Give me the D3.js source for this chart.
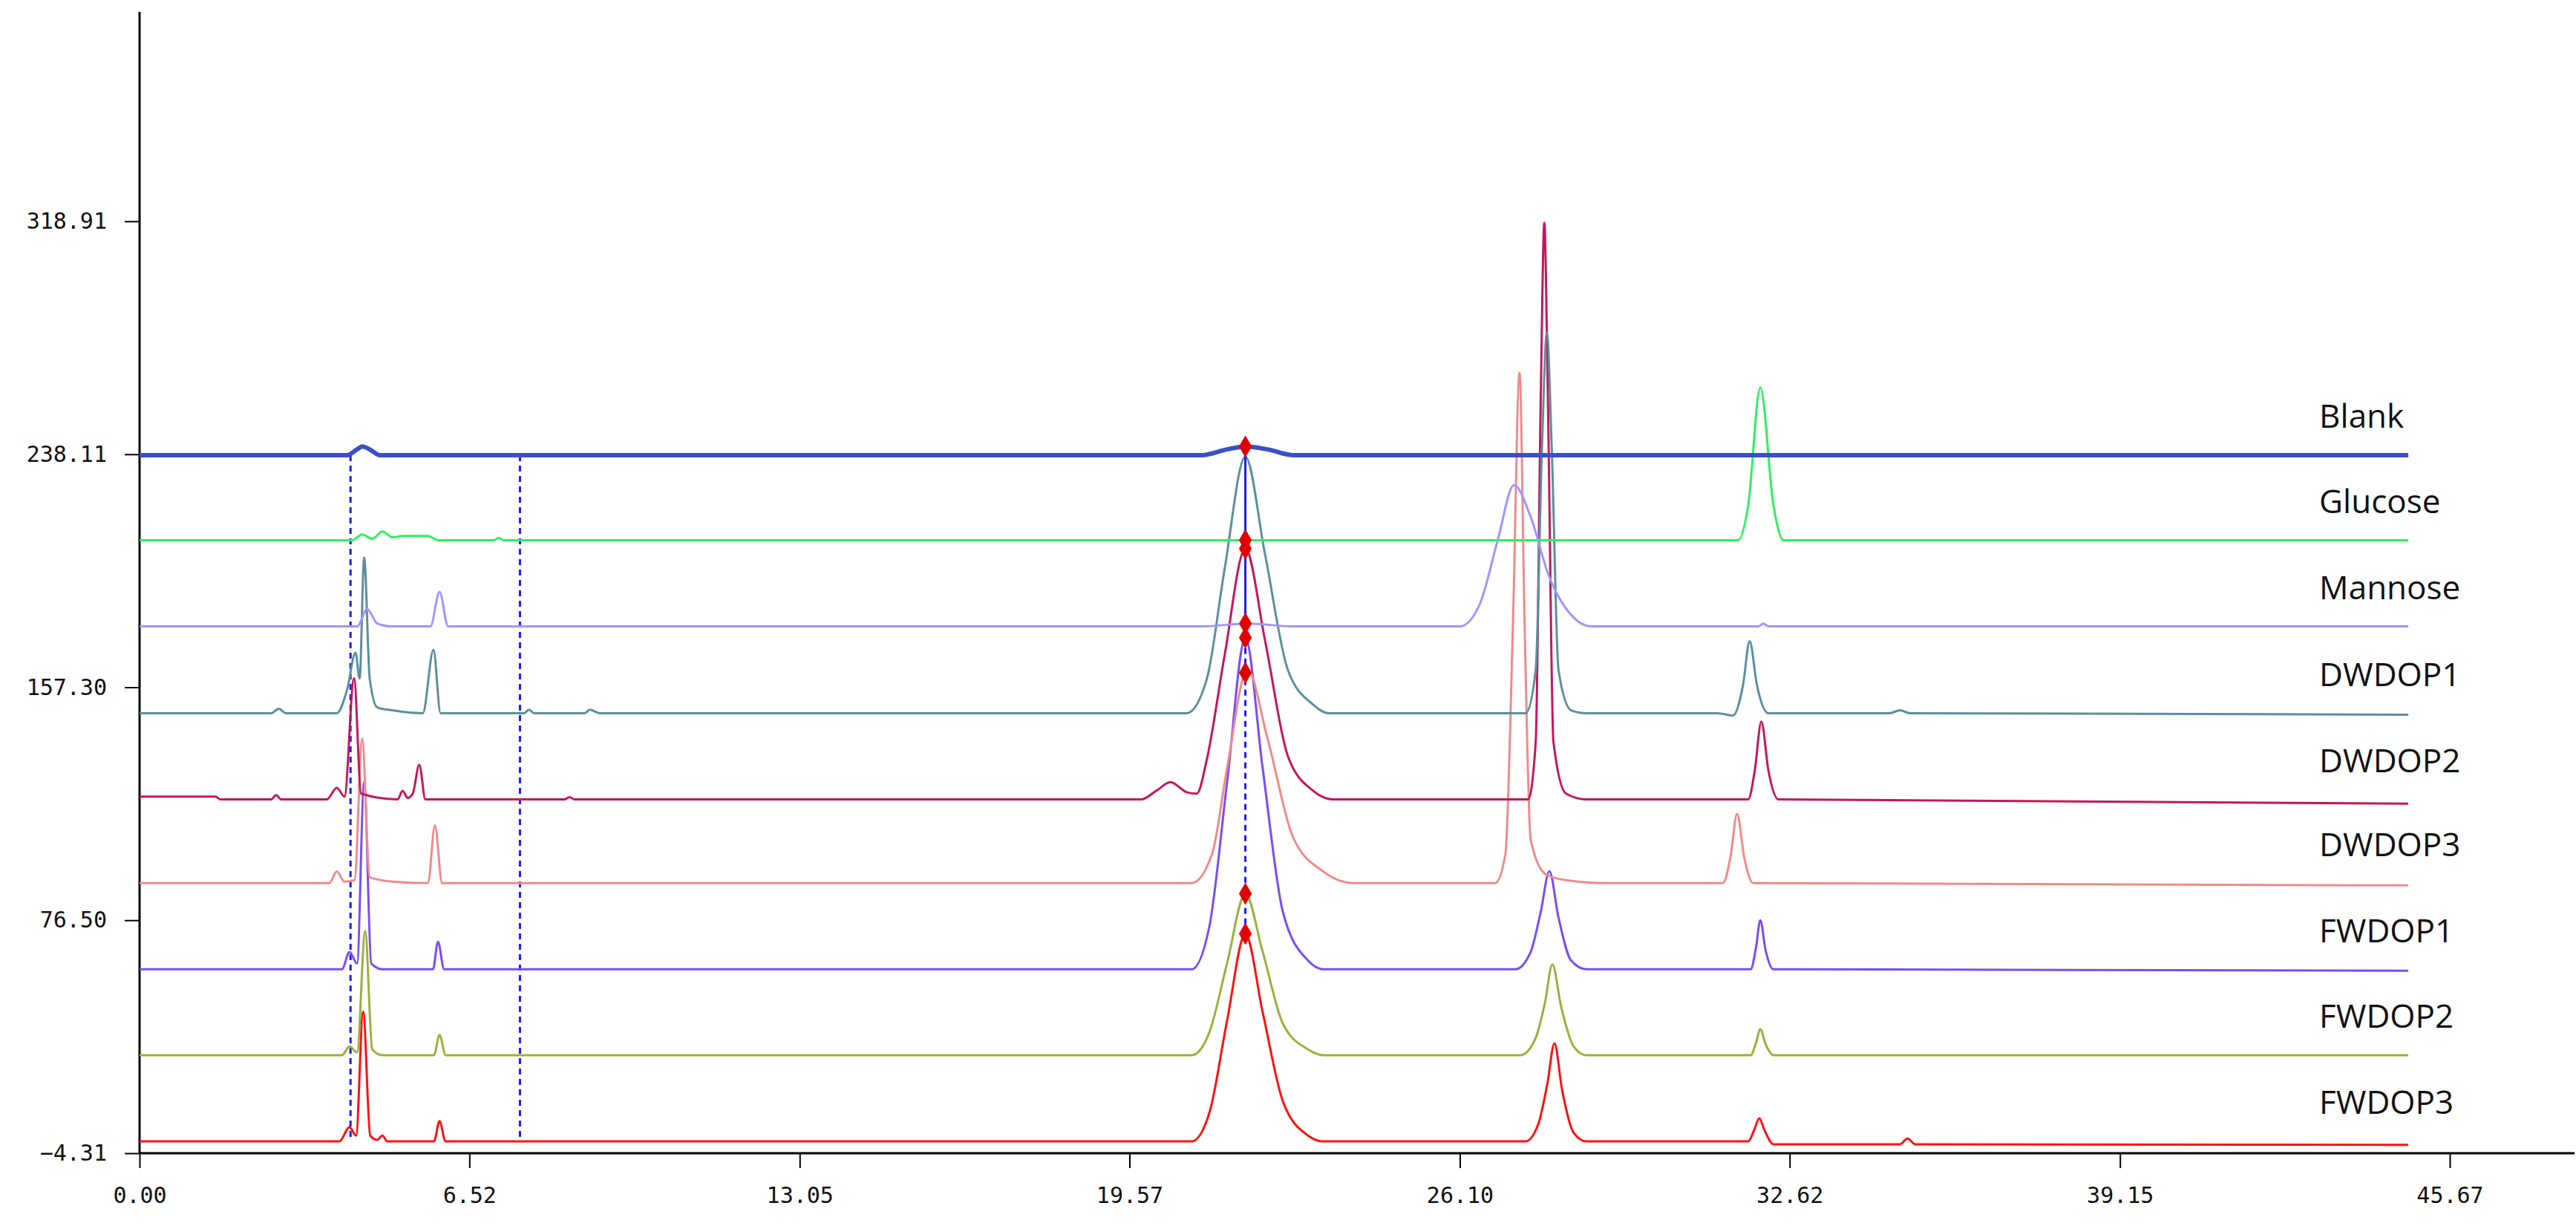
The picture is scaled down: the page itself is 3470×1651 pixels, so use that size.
<!DOCTYPE html>
<html>
<head>
<meta charset="utf-8">
<script src="https://cdn.jsdelivr.net/npm/d3@7"></script>
<style>
  body { margin: 0; background: #fff; }
  svg { display: block; }
</style>
</head>
<body>
<div id="container"></div>
<script>
// chromatogram traces, stacked; each point is [time (min), signal above its baseline]
const names = ["Blank", "Glucose", "Mannose", "DWDOP1", "DWDOP2", "DWDOP3", "FWDOP1", "FWDOP2", "FWDOP3"];
const baselines = [237.8, 208.3, 178.4, 148.3, 118.4, 89.4, 59.5, 29.7, -0.2];
const colors = ["#3a4fc8", "#2ef060", "#a394ff", "#5b8f9f", "#c2185b", "#f08a8a", "#7a4cf5", "#9bb03c", "#ff1010"];
const xTicks = [0.00, 6.52, 13.05, 19.57, 26.10, 32.62, 39.15, 45.67];
const yTicks = [-4.31, 76.50, 157.30, 238.11, 318.91];

const blank = [[0,0],[4.1,0],[4.3,2],[4.4,3],[4.55,2],[4.75,0],[21.0,0],[21.5,2],[21.86,3],[22.3,2],[22.8,0],[44.85,0]];
const glucose = [[0,0],[4.2,0],[4.4,2],[4.6,0.5],[4.8,3],[5.0,1],[5.2,1.5],[5.7,1.5],[5.9,0],[7.0,0],[7.1,0.8],[7.2,0],
  [31.6,0],[31.8,12],[32.04,53],[32.3,12],[32.5,0],[44.85,0]];
const mannose = [[0,0],[4.3,0],[4.5,6],[4.7,1],[5.0,0],[5.75,0],[5.93,12],[6.1,0],[21.0,0],[21.9,1],[22.8,0],
  [26.1,0],[26.5,8],[26.85,30],[27.17,49],[27.5,38],[27.85,18],[28.3,4],[28.7,0],[32.0,0],[32.1,1],[32.2,0],[44.85,0]];
const dwdop1 = [[0,0],[2.6,0],[2.75,1.5],[2.9,0],[3.9,0],[4.1,8],[4.27,21],[4.35,12],[4.44,54],[4.55,12],[4.7,2],[5.0,1],
  [5.6,0],[5.81,22],[5.95,0],[7.6,0],[7.7,1.2],[7.8,0],[8.8,0],[8.9,1.2],[9.1,0],
  [20.7,0],[21.1,12],[21.45,50],[21.86,89],[22.25,55],[22.7,15],[23.2,3],[23.5,0],
  [27.4,0],[27.6,15],[27.72,90],[27.82,132],[27.92,90],[28.05,15],[28.3,1],[28.6,0],
  [31.2,0],[31.5,-0.8],[31.7,10],[31.83,25],[31.97,10],[32.2,0],[34.6,0],[34.8,1],[35.0,0],[44.85,-0.5]];
const dwdop2 = [[0,1],[1.5,1],[1.6,0],[2.6,0],[2.7,1.5],[2.8,0],[3.7,0],[3.9,4],[4.05,1],[4.24,42],[4.38,2],
  [5.1,0],[5.2,3],[5.3,0.5],[5.4,2],[5.53,12],[5.65,0],[8.4,0],[8.5,0.8],[8.6,0],
  [19.8,0],[20.1,3],[20.38,6],[20.7,2.5],[20.9,2],[21.1,14],[21.45,50],[21.86,87],[22.25,55],[22.7,15],[23.2,3],[23.6,0],
  [27.45,0],[27.6,20],[27.7,140],[27.77,200],[27.84,140],[27.95,20],[28.2,2],[28.6,0],
  [31.8,0],[31.93,10],[32.06,27],[32.2,10],[32.4,0],[44.85,-1.5]];
const dwdop3 = [[0,0],[3.75,0],[3.9,4],[4.05,0.5],[4.25,1],[4.4,50],[4.55,2],[5.0,0.5],[5.7,0],[5.84,20],[5.98,0],
  [20.8,0],[21.2,10],[21.5,40],[21.9,74],[22.3,50],[22.8,16],[23.4,4],[24.0,0],
  [26.8,0],[27.0,10],[27.15,90],[27.28,177],[27.38,90],[27.5,15],[27.8,3],[28.2,1],[29.0,0],
  [31.3,0],[31.45,9],[31.58,24],[31.72,9],[31.9,0],[44.85,-0.8]];
const fwdop1 = [[0,0],[4.0,0],[4.15,6],[4.3,2],[4.44,65],[4.58,2],[4.8,0],[5.8,0],[5.9,9.5],[6.02,0],
  [20.8,0],[21.15,15],[21.5,65],[21.86,115],[22.2,70],[22.6,20],[23.1,3],[23.4,0],
  [27.2,0],[27.5,6],[27.7,20],[27.87,34],[28.05,18],[28.3,3],[28.6,0],
  [31.85,0],[31.95,7],[32.04,17],[32.14,7],[32.3,0],[44.85,-0.5]];
const fwdop2 = [[0,0],[4.0,0],[4.15,3],[4.3,1],[4.46,43],[4.6,2],[4.8,0],[5.82,0],[5.93,7],[6.05,0],
  [20.8,0],[21.15,8],[21.5,32],[21.86,56],[22.2,36],[22.6,11],[23.1,2],[23.4,0],
  [27.3,0],[27.6,6],[27.78,18],[27.93,31.5],[28.1,17],[28.35,3],[28.6,0],
  [31.85,0],[31.95,4],[32.04,9],[32.14,4],[32.3,0],[44.85,0]];
const fwdop3 = [[0,0],[3.95,0],[4.15,5],[4.28,2],[4.42,45],[4.56,2],[4.7,0.5],[4.8,2],[4.9,0],[5.82,0],[5.93,7],[6.05,0],
  [20.8,0],[21.15,10],[21.5,42],[21.86,72],[22.2,45],[22.6,14],[23.1,2],[23.4,0],
  [27.4,0],[27.65,6],[27.83,20],[27.97,34],[28.12,18],[28.35,3],[28.6,0],
  [31.8,0],[31.92,4],[32.02,8],[32.12,4],[32.3,-1],[34.8,-1],[34.95,1],[35.1,-1],[44.85,-1.2]];
const traces = [blank, glucose, mannose, dwdop1, dwdop2, dwdop3, fwdop1, fwdop2, fwdop3];

// red peak markers at the main peak, and the blue guide lines
const markerTime = 21.86;
const markerValues = [240.8, 208.3, 205.4, 179.4, 174.5, 162.3, 85.7, 71.8];
const guideTimes = [4.17, 7.52];

const width = 3470, height = 1651;
const x = d3.scaleLinear().domain([0, 45.67]).range([188, 3300]);
const y = d3.scaleLinear().domain([-4.31, 318.91]).range([1553, 298]);

const svg = d3.select("#container").append("svg")
  .attr("width", width).attr("height", height);

// axes
const axisFont = "'DejaVu Sans Mono', monospace";
const xAxis = svg.append("g").attr("transform", `translate(0,${y(-4.31)})`)
  .call(d3.axisBottom(x).tickValues(xTicks).tickFormat(d3.format(".2f")).tickSize(20).tickPadding(26));
xAxis.select(".domain").remove();
xAxis.append("line").attr("x1", x(0)).attr("x2", 3468).attr("stroke", "#000").attr("stroke-width", 3);

const yAxis = svg.append("g").attr("transform", `translate(${x(0)},0)`)
  .call(d3.axisLeft(y).tickValues(yTicks).tickFormat(d3.format(".2f")).tickSize(20).tickPadding(24));
yAxis.select(".domain").remove();
yAxis.append("line").attr("y1", 16).attr("y2", y(-4.31)).attr("stroke", "#000").attr("stroke-width", 3);

svg.selectAll(".tick line").attr("stroke", "#000").attr("stroke-width", 2);
svg.selectAll(".tick text").attr("font-family", axisFont).attr("font-size", 30).attr("fill", "#111");

// guide lines
svg.selectAll(".guide").data(guideTimes).enter().append("line")
  .attr("x1", d => x(d)).attr("x2", d => x(d))
  .attr("y1", y(baselines[0])).attr("y2", y(baselines[8]))
  .attr("stroke", "#1a1aff").attr("stroke-width", 3).attr("stroke-dasharray", "8,6");

const line = d3.line()
  .x(d => x(d[0]))
  .y(d => y(d[1]))
  .curve(d3.curveMonotoneX);

// draw from bottom to top so Blank sits on top
const order = d3.range(traces.length).reverse();
svg.selectAll(".trace").data(order).enter().append("path")
  .attr("fill", "none")
  .attr("stroke", i => colors[i])
  .attr("stroke-width", i => i === 0 ? 6 : 3)
  .attr("d", i => line(traces[i].map(p => [p[0], p[1] + baselines[i]])));

// guide through main peak
svg.append("line")
  .attr("x1", x(markerTime)).attr("x2", x(markerTime))
  .attr("y1", y(markerValues[0])).attr("y2", y(markerValues[4]))
  .attr("stroke", "#1a1aff").attr("stroke-width", 3);
svg.append("line")
  .attr("x1", x(markerTime)).attr("x2", x(markerTime))
  .attr("y1", y(markerValues[4])).attr("y2", y(markerValues[7]))
  .attr("stroke", "#1a1aff").attr("stroke-width", 3).attr("stroke-dasharray", "8,6");

svg.selectAll(".marker").data(markerValues).enter().append("path")
  .attr("transform", d => `translate(${x(markerTime)},${y(d)})`)
  .attr("d", d3.symbol().type(d3.symbolDiamond).size(260))
  .attr("fill", "#e00000");

// series labels
svg.selectAll(".label").data(names).enter().append("text")
  .attr("x", x(44.85) - 120)
  .attr("y", (d, i) => y(baselines[i]) - 52)
  .attr("dy", "0.35em")
  .attr("font-family", "'Open Sans', sans-serif")
  .attr("font-size", 44)
  .attr("fill", "#111")
  .text(d => d);
</script>
</body>
</html>
